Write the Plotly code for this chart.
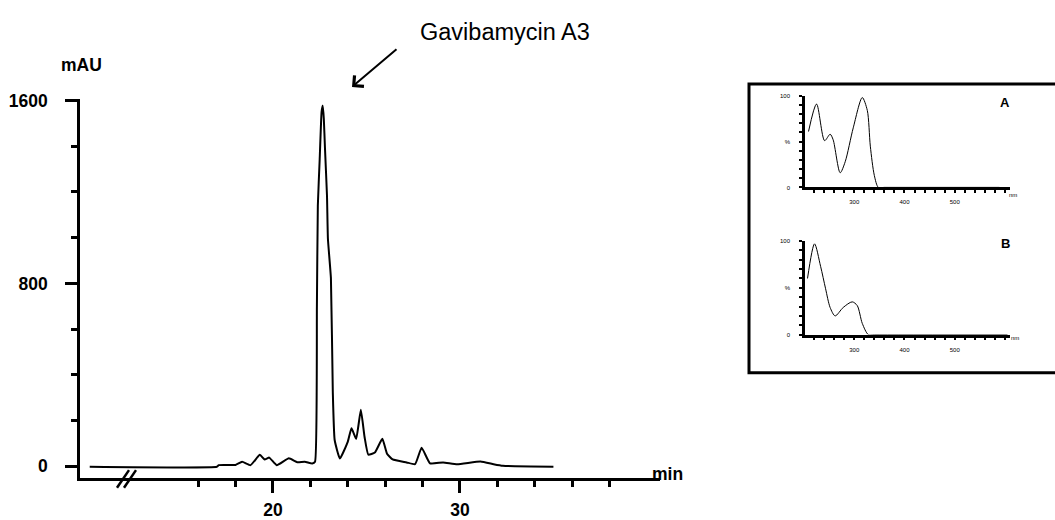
import plotly.graph_objects as go

# ---------------- data ----------------
# HPLC chromatogram (retention time, min) vs absorbance (mAU)
rt_min = [10.2, 17.0, 17.1, 18.0, 18.35, 18.8, 19.3, 19.55, 19.8, 20.2, 20.85, 21.3,
          21.7, 22.1, 22.25, 22.35, 22.4, 22.5, 22.6, 22.66, 22.72, 22.78, 22.89,
          22.94, 23.1, 23.2, 23.3, 23.58, 24.0, 24.2, 24.45, 24.7, 24.9, 25.1,
          25.45, 25.85, 26.1, 26.4, 27.15, 27.6, 27.95, 28.4, 29.1, 29.85, 31.1,
          31.8, 32.3, 35.0]
mau = [-2, -2, 5, 6, 20, 5, 50, 30, 38, 5, 35, 18,
       20, 12, 20, 700, 1139, 1344, 1549, 1578, 1520, 1395, 1182,
       994, 823, 328, 115, 34, 107, 166, 120, 247, 128, 51,
       60, 120, 55, 30, 17, 9, 81, 13, 17, 9, 21,
       9, 2, -2]

# UV spectra (wavelength, nm) vs relative absorbance (%)
uv_a_nm = [209, 225, 241, 252, 258, 272, 282, 298, 316, 326, 332, 340, 348, 360,
           589]
uv_a_pct = [61, 91, 51, 58, 52, 16, 28, 65, 98, 84, 45, 13, 0, 0, 0]
uv_b_nm = [207, 221, 233, 243, 252, 262, 278, 296, 306, 316, 328, 340, 605]
uv_b_pct = [60, 97, 73, 49, 29, 20, 29, 35, 31, 12, 0, 0, 0]

main_x_ticks = [20, 30]
main_x_minor = [16, 18, 22, 24, 26, 28, 32, 34, 36, 38]
main_y_ticks = [0, 800, 1600]
uv_x_ticks = [300, 400, 500]
uv_y_ticks = [0, 50, 100]
uv_y_ticktext = ["0", "%", "100"]

FONT = "Arial, 'Liberation Sans', sans-serif"
W, H = 1055, 520


def px(x):
    return x / W


def py(y):
    return 1 - y / H


fig = go.Figure()

fig.add_trace(go.Scatter(x=rt_min, y=mau, mode="lines",
                         line=dict(color="black", width=2, shape="spline",
                                   smoothing=0.4),
                         xaxis="x", yaxis="y", showlegend=False))
fig.add_trace(go.Scatter(x=uv_a_nm, y=uv_a_pct, mode="lines",
                         line=dict(color="black", width=1, shape="spline",
                                   smoothing=0.8),
                         xaxis="x2", yaxis="y2", showlegend=False))
fig.add_trace(go.Scatter(x=uv_b_nm, y=uv_b_pct, mode="lines",
                         line=dict(color="black", width=1, shape="spline",
                                   smoothing=0.8),
                         xaxis="x3", yaxis="y3", showlegend=False))

main_axis_common = dict(showgrid=False, zeroline=False, showline=True,
                        linecolor="black", linewidth=2.5,
                        ticks="outside", tickcolor="black", tickwidth=2.5,
                        ticklen=12,
                        tickfont=dict(family=FONT, size=17.5, color="black",
                                      weight="bold"))

fig.update_layout(
    width=W, height=H,
    margin=dict(l=0, r=0, t=0, b=0),
    paper_bgcolor="white", plot_bgcolor="rgba(0,0,0,0)",
    xaxis=dict(domain=[px(80), px(660)], range=[9.68, 40.7],
               tickmode="array", tickvals=main_x_ticks,
               minor=dict(tickvals=main_x_minor, ticks="outside", ticklen=6,
                          tickwidth=2.5, tickcolor="black"),
               anchor="y", ticklabelstandoff=2, **main_axis_common),
    yaxis=dict(domain=[py(482), py(93)], range=[-51, 1608],
               tickmode="array", tickvals=main_y_ticks,
               minor=dict(dtick=200, tick0=0, ticks="outside", ticklen=6,
                          tickwidth=2.5, tickcolor="black"),
               anchor="x", ticklabelstandoff=14, **main_axis_common),
)

inset_axis_common = dict(showgrid=False, zeroline=False, showline=True,
                         linecolor="black", linewidth=2.5,
                         ticks="outside", tickcolor="black", tickwidth=2,
                         ticklen=3,
                         tickfont=dict(family=FONT, size=6, color="black"))

for i, (ylo, yhi) in zip([2, 3], [(184, 90), (335, 239)]):
    fig.update_layout({
        f"xaxis{i}": dict(domain=[px(805), px(1010)], range=[202, 610],
                          tickmode="array", tickvals=uv_x_ticks,
                          minor=dict(dtick=20, tick0=200, ticks="outside",
                                     ticklen=3, tickwidth=2,
                                     tickcolor="black"),
                          anchor=f"y{i}", ticklabelstandoff=4,
                          **inset_axis_common),
        f"yaxis{i}": dict(domain=[py(ylo), py(yhi)], range=[0, 100],
                          tickmode="array", tickvals=uv_y_ticks,
                          ticktext=uv_y_ticktext,
                          minor=dict(dtick=10, tick0=0, ticks="outside",
                                     ticklen=3, tickwidth=2,
                                     tickcolor="black"),
                          anchor=f"x{i}", ticklabelstandoff=8,
                          **inset_axis_common),
    })

annotations = [
    dict(text="<b>mAU</b>", x=px(81), y=py(58), font=dict(size=17.5)),
    dict(text="<b>min</b>", x=px(667), y=py(478), font=dict(size=17.5)),
    dict(text="Gavibamycin A3", x=px(505), y=py(25), font=dict(size=23.5)),
    dict(text="<b>A</b>", x=px(1005), y=py(97), font=dict(size=13)),
    dict(text="<b>B</b>", x=px(1005), y=py(242), font=dict(size=13)),
    dict(text="nm", x=px(1013), y=py(192), font=dict(size=6)),
    dict(text="nm", x=px(1015), y=py(338), font=dict(size=6)),
]
for a in annotations:
    a.update(xref="paper", yref="paper", showarrow=False,
             xanchor="center", yanchor="middle")
    a["font"].update(family=FONT, color="black")

# arrow pointing at the main peak
annotations.append(dict(
    x=px(352), y=py(81), xref="paper", yref="paper",
    ax=46, ay=-39, axref="pixel", ayref="pixel",
    text="", showarrow=True, arrowhead=4, arrowsize=1.4,
    arrowwidth=2, arrowcolor="black"))
fig.update_layout(annotations=annotations)

# axis-break marks and inset frame
shapes = [
    dict(type="line", x0=px(117), y0=py(492), x1=px(129), y1=py(474)),
    dict(type="line", x0=px(124), y0=py(492), x1=px(136), y1=py(474)),
    dict(type="rect", x0=px(749), y0=py(374), x1=px(1058), y1=py(78)),
]
for s in shapes:
    s.update(xref="paper", yref="paper",
             line=dict(color="black", width=2.5 if s["type"] == "line" else 3))
fig.update_layout(shapes=shapes)

fig.write_html("out.html")
